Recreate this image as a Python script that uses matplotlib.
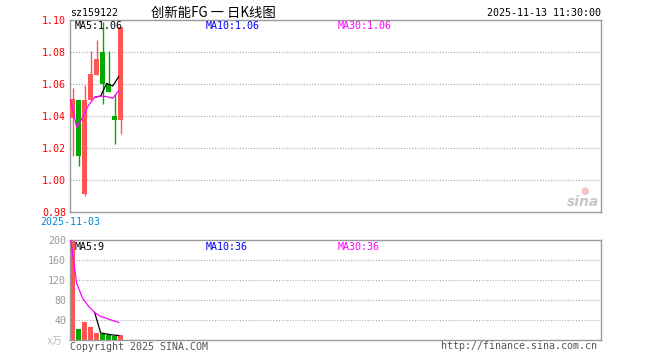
import matplotlib.pyplot as plt
from matplotlib.patches import Rectangle

# daily candles
opens  = [1.039, 1.050, 0.9915, 1.050, 1.066, 1.080, 1.060, 1.040, 1.038]
closes = [1.051, 1.015, 1.050, 1.0665, 1.076, 1.0605, 1.055, 1.038, 1.096]
highs  = [1.0575, 1.050, 1.0596, 1.081, 1.088, 1.099, 1.081, 1.054, 1.096]
lows   = [1.015, 1.009, 0.9905, 1.050, 1.066, 1.0475, 1.055, 1.023, 1.029]
volume = [200, 22, 36, 26, 14, 12, 10, 8, 10]

price_ma5 = [None, None, None, None, 1.0519, 1.0527, 1.0606, 1.0589, 1.0648]
price_ma30 = [1.0502, 1.0331, 1.0394, 1.0471, 1.0519, 1.0527, 1.0523, 1.0512, 1.056]
vol_ma5 = [None, None, None, None, 55, 14, 12, 10, 9]
vol_ma30 = [200, 113, 83, 67, 55, 47, 43, 39, 35]

price_ticks = [1.10, 1.08, 1.06, 1.04, 1.02, 1.00, 0.98]
vol_ticks = [200, 160, 120, 80, 40]

RED = "#ff5555"
GREEN = "#00aa00"
FRAME = "#999999"
GRIDC = "#aaaaaa"
MONO = ["DejaVu Sans Mono", "Noto Sans CJK SC"]
FS = 7.2

W, H = 660, 360
fig = plt.figure(figsize=(6.6, 3.6), dpi=100)


def px_axes(x0, y0, x1, y1):
    return fig.add_axes([x0 / W, 1 - y1 / H, (x1 - x0) / W, (y1 - y0) / H])


left_px, right_px = 70.3, 601
slot = 6.0
xmin = -(72.5 - left_px) / slot
xmax = xmin + (right_px - left_px) / slot

ax = px_axes(left_px, 20.3, right_px, 212.3)
vax = px_axes(left_px, 240, right_px, 340)

for a in (ax, vax):
    a.set_xlim(xmin, xmax)
    a.set_xticks([])
    for s in a.spines.values():
        s.set_color(FRAME)
        s.set_linewidth(1.0)
    a.tick_params(axis="y", length=0, pad=3)

# price panel
ax.set_ylim(0.98, 1.10)
ax.set_yticks(price_ticks)
ax.set_yticklabels([f"{v:.2f}" for v in price_ticks], color="red",
                   fontsize=FS, family=MONO)
for v in price_ticks[1:-1]:
    ax.axhline(v, color=GRIDC, lw=0.8, ls=(0, (1, 1.5)), zorder=0)

bw = 5 / 6
for i in range(len(opens)):
    c = RED if closes[i] >= opens[i] else GREEN
    ax.vlines(i, lows[i], highs[i], color=c, lw=1.0, zorder=2)
    lo, hi = sorted([opens[i], closes[i]])
    ax.add_patch(Rectangle((i - bw / 2, lo), bw, max(hi - lo, 0.0006),
                           facecolor=c, edgecolor=c, lw=0, zorder=3))

off = -0.3
xs = [i + off for i in range(len(opens))]
ma5_pts = [(x, v) for x, v in zip(xs, price_ma5) if v is not None]
ax.plot([p[0] for p in ma5_pts], [p[1] for p in ma5_pts], color="black", lw=0.9, zorder=4)
ax.plot(xs, price_ma30, color="#ff00ff", lw=0.9, zorder=4)

fig.text(75 / W, 1 - 26 / H, "MA5:1.06", color="black",
         fontsize=FS, family=MONO, va="center", ha="left", zorder=5)
fig.text(206 / W, 1 - 26 / H, "MA10:1.06", color="#0000ff",
         fontsize=FS, family=MONO, va="center", ha="left")
fig.text(338 / W, 1 - 26 / H, "MA30:1.06", color="#ff00ff",
         fontsize=FS, family=MONO, va="center", ha="left")

# volume panel
vax.set_ylim(0, 200)
vax.set_yticks(vol_ticks)
vax.set_yticklabels([str(v) for v in vol_ticks], color="#999999",
                    fontsize=FS, family=MONO)
for v in vol_ticks[1:]:
    vax.axhline(v, color=GRIDC, lw=0.8, ls=(0, (1, 1.5)), zorder=0)

vcolors = [RED if closes[i] >= opens[i] else GREEN for i in range(len(volume))]
vax.bar(range(len(volume)), volume, width=bw, color=vcolors, zorder=2)
v5 = [(x, v) for x, v in zip(xs, vol_ma5) if v is not None]
vax.plot([p[0] for p in v5], [p[1] for p in v5], color="black", lw=0.9, zorder=4)
vax.plot(xs, vol_ma30, color="#ff00ff", lw=0.9, zorder=4)

fig.text(75 / W, 1 - 247 / H, "MA5:9", color="black", fontsize=FS, family=MONO, va="center")
fig.text(206 / W, 1 - 247 / H, "MA10:36", color="#0000ff", fontsize=FS, family=MONO, va="center")
fig.text(338 / W, 1 - 247 / H, "MA30:36", color="#ff00ff", fontsize=FS, family=MONO, va="center")
fig.text(63 / W, 1 - 341 / H, "x万", color="#bbbbbb", fontsize=FS, family=MONO,
         va="center", ha="right")

# header / footer texts
fig.text(70 / W, 1 - 13 / H, "sz159122", color="black", fontsize=FS, family=MONO, va="center")
fig.text(151 / W, 1 - 13 / H, "创新能FG 一 日K线图", color="black", fontsize=9.6,
         family=["Noto Sans CJK SC", "DejaVu Sans"], va="center")
fig.text(601 / W, 1 - 13 / H, "2025-11-13 11:30:00", color="black", fontsize=FS,
         family=MONO, va="center", ha="right")
fig.text(40 / W, 1 - 222 / H, "2025-11-03", color="#0088dd", fontsize=FS, family=MONO,
         va="center")
fig.text(70 / W, 1 - 347 / H, "Copyright 2025 SINA.COM", color="#555555", fontsize=FS,
         family=MONO, va="center")
fig.text(597 / W, 1 - 346 / H, "http://finance.sina.com.cn", color="#555555", fontsize=FS,
         family=MONO, va="center", ha="right")

# faint sina watermark
fig.text(599 / W, 1 - 202 / H, "sina", color="#c8c8c8", fontsize=10, style="italic",
         weight="bold", va="center", ha="right")
fig.text(585 / W, 1 - 191 / H, "●", color="#f4c4c4", fontsize=7, va="center", ha="center")

fig.savefig("out.png", dpi=100)
